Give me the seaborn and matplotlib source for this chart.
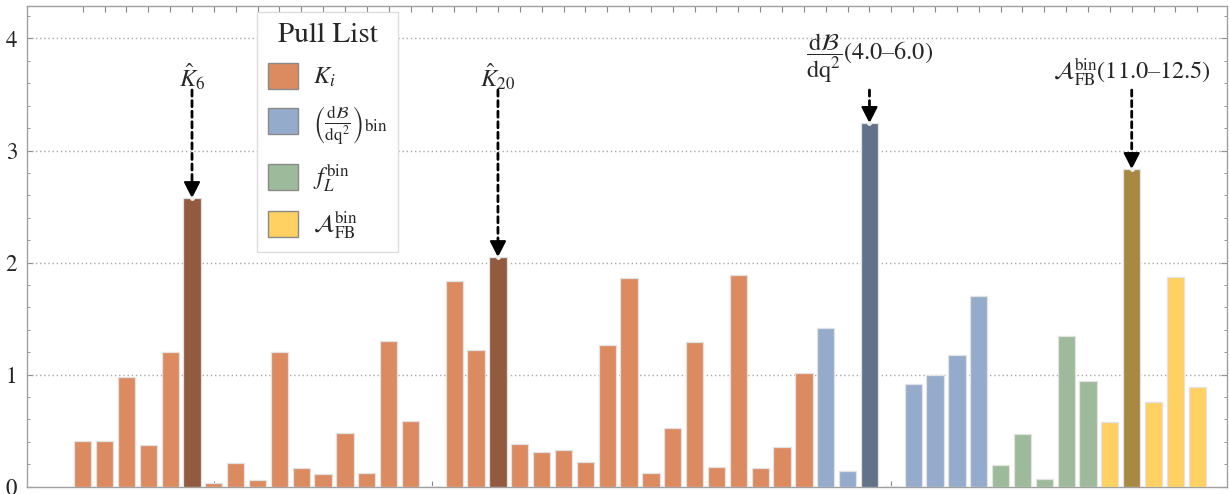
import matplotlib
matplotlib.use("Agg")
import matplotlib.pyplot as plt
from matplotlib.patches import Patch
import seaborn as sns
import pandas as pd
import numpy as np

# ---- data ----
K_vals = [0.41, 0.41, 0.98, 0.37, 1.205, 2.575, 0.03, 0.214, 0.06, 1.20,
          0.17, 0.113, 0.476, 0.125, 1.30, 0.586, 0.006, 1.84, 1.218, 2.048,
          0.378, 0.307, 0.33, 0.223, 1.265, 1.86, 0.122, 0.52, 1.29, 0.176,
          1.89, 0.167, 0.355, 1.018]
dB_vals = [1.414, 0.137, 3.245, 0.006, 0.917, 0.995, 1.173, 1.70]
fL_vals = [0.19, 0.473, 0.069, 1.345, 0.944]
AFB_vals = [0.58, 2.834, 0.753, 1.875, 0.887]

# highlighted bar (index within each group) and its annotation
K_highlight = [5, 19]
dB_highlight = [2]
AFB_highlight = [1]

group_names = ["K", "dB", "fL", "AFB"]
legend_labels = [r"$K_i$",
                 r"$\left(\frac{\mathrm{d}\mathcal{B}}{\mathrm{dq}^2}\right)_{\mathrm{bin}}$",
                 r"$f_L^{\mathrm{bin}}$",
                 r"$\mathcal{A}_{\mathrm{FB}}^{\mathrm{bin}}$"]
annot_labels = {("K", 5): r"$\hat{K}_6$",
                ("K", 19): r"$\hat{K}_{20}$",
                ("dB", 2): r"$\dfrac{\mathrm{d}\mathcal{B}}{\mathrm{dq}^2}$(4.0–6.0)",
                ("AFB", 1): r"$\mathcal{A}_{\mathrm{FB}}^{\mathrm{bin}}$(11.0–12.5)"}

colors = {"K": "#DC8A60", "dB": "#95ABCC", "fL": "#9DBA9A", "AFB": "#FFD062",
          "K_hi": "#925B3F", "dB_hi": "#627389", "fL_hi": "#5E7A5C", "AFB_hi": "#A88944"}

# ---- build table ----
rows = []
for g, vals, hl in [("K", K_vals, K_highlight), ("dB", dB_vals, dB_highlight),
                    ("fL", fL_vals, []), ("AFB", AFB_vals, AFB_highlight)]:
    for i, v in enumerate(vals):
        rows.append({"group": g, "gi": i, "value": v,
                     "key": g + "_hi" if i in hl else g})
df = pd.DataFrame(rows)
df["pos"] = np.arange(len(df))

sns.set_style("white")
plt.rcParams["font.family"] = ["STIXGeneral", "DejaVu Serif"]
plt.rcParams["mathtext.fontset"] = "stix"

fig = plt.figure(figsize=(12.29, 4.94), dpi=100)
ax = fig.add_axes([27 / 1229, 7.3 / 494, 1200 / 1229, 480.7 / 494])

sns.barplot(data=df, x="pos", y="value", hue="key", palette=colors,
            dodge=False, width=0.79, legend=False, ax=ax, saturation=1,
            edgecolor="#e2e2e2", linewidth=0.9, zorder=3)

ax.set_xlim(-2.55, len(df) - 1 + 1.36)
ax.set_ylim(0, 4.29)
ax.set_xlabel("")
ax.set_ylabel("")

# grid
for yv in [1, 2, 3, 4]:
    ax.axhline(yv, color="#a8a8a8", lw=1.0, ls=(0, (1, 2)), zorder=1)

# ticks
ax.set_xticks(df["pos"].values)
ax.set_xticklabels([])
ax.tick_params(axis="x", which="both", direction="in", length=4, width=0.8,
               color="#888888", top=True, bottom=True, labelbottom=False)
ax.set_yticks([0, 1, 2, 3, 4])
ax.set_yticks(np.arange(0, 4.3, 0.2), minor=True)
ax.tick_params(axis="y", which="major", direction="in", length=4, width=0.8,
               color="#888888", left=True, right=True, labelsize=16.5, pad=7)
ax.tick_params(axis="y", which="minor", direction="in", length=2.5, width=0.7,
               color="#999999", left=True, right=True)
for s in ax.spines.values():
    s.set_color("#a0a0a0")
    s.set_linewidth(1.0)

# annotations
arrow_start = 3.54
label_y = {("K", 5): 3.66, ("K", 19): 3.66, ("dB", 2): 3.82, ("AFB", 1): 3.70}
for (g, gi), lab in annot_labels.items():
    r = df[(df.group == g) & (df.gi == gi)].iloc[0]
    x, v = r["pos"], r["value"]
    ax.annotate("", xy=(x, v + 0.06), xytext=(x, arrow_start),
                arrowprops=dict(arrowstyle="-", lw=2.0, color="black",
                                linestyle=(0, (2.2, 1.6)), shrinkA=0, shrinkB=0),
                zorder=5)
    ax.annotate("", xy=(x, v), xytext=(x, v + 0.12),
                arrowprops=dict(arrowstyle="-|>,head_length=0.55,head_width=0.28",
                                lw=1.5, color="black", shrinkA=0, shrinkB=0,
                                mutation_scale=18),
                zorder=6)
    ax.plot([x], [v], marker="o", ms=3.5, color="#eeeeee", mec="none", zorder=7)
    ax.text(x, label_y[(g, gi)], lab, ha="center", va="center", fontsize=17.5, zorder=6)

# legend
handles = [Patch(facecolor=colors[g], edgecolor="#8a8a8a", linewidth=1.0) for g in group_names]
leg = ax.legend(handles, legend_labels, title="Pull List", loc="upper left",
                bbox_to_anchor=(0.1915, 0.988), borderaxespad=0, frameon=True, fancybox=False,
                edgecolor="#dddddd", framealpha=1.0, fontsize=17.5, title_fontsize=21,
                handlelength=1.25, handleheight=1.25, handletextpad=0.6,
                labelspacing=0.62, borderpad=0.45)
leg.set_zorder(10)

fig.savefig("out.png", dpi=100)
